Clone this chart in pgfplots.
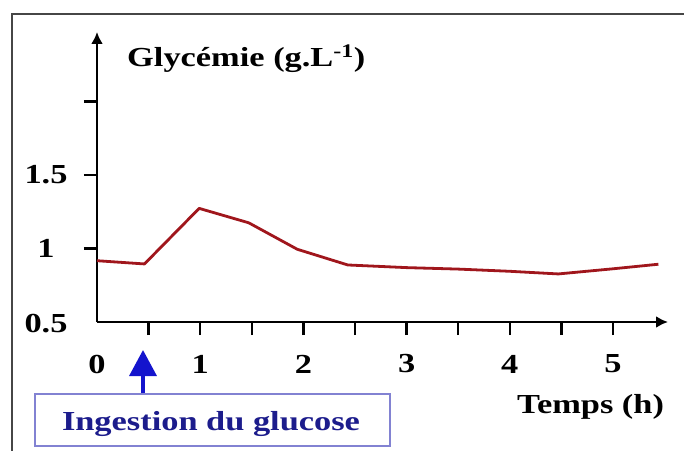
\documentclass[border=0pt]{standalone}
\usepackage{fontspec}
\setmainfont{Liberation Serif}[FakeStretch=1.25]
\usepackage{pgfplots}
\pgfplotsset{compat=1.18}
\usetikzlibrary{arrows.meta,calc}
\definecolor{curve}{RGB}{160,22,28}
\definecolor{framegray}{RGB}{70,70,70}
\definecolor{boxline}{RGB}{130,130,210}
\definecolor{txtblue}{RGB}{28,28,140}
\definecolor{arrblue}{RGB}{20,20,205}
\newcommand{\bigf}{\fontsize{27.5}{30}\selectfont\bfseries}
\begin{document}
\begin{tikzpicture}
\begin{axis}[
  scale only axis, width=571pt, height=290pt,
  xmin=0, xmax=5.533, ymin=0.5, ymax=2.473,
  axis lines=left,
  axis line style={line width=2.5pt, -{Latex[length=12pt,width=12pt]}},
  tick align=outside, major tick length=13pt,
  tick style={line width=2.3pt, black},
  xtick={0.5,1,...,5}, xticklabels={,1,,2,,3,,4,,5},
  extra x ticks={0}, extra x tick labels={0},
  extra x tick style={major tick style={draw=none}},
  ytick={1,1.5,2}, yticklabels={1,1.5,},
  extra y ticks={0.5}, extra y tick labels={0.5},
  extra y tick style={major tick style={draw=none}, yticklabel style={yshift=-2pt}},
  /pgf/number format/assume math mode=true,
  xticklabel style={font=\bigf, anchor=center, yshift=-29pt},
  yticklabel style={font=\bigf, anchor=center, xshift=-38pt},
  clip=false,
]
\addplot[curve, line width=2.8pt, line join=round] coordinates {
  (0,0.917) (0.46,0.895) (0.99,1.273) (1.47,1.175) (1.94,0.995)
  (2.43,0.888) (3,0.87) (3.5,0.86) (4,0.845) (4.47,0.827) (5,0.862) (5.44,0.893)
};
\coordinate (O) at (axis cs:0,0.5);
\end{axis}
% local frame: (px,py) in reference pixels -> (px-97, 322-py)
\begin{scope}[shift={(O)}, x=1pt, y=1pt]
\begin{scope}
\clip (-97,-128) rectangle (587,322);
\draw[framegray, line width=2pt] (-85,-140) -- (-85,308) -- (600,308);
\end{scope}
\node[anchor=base west, inner sep=0pt, font=\bigf] at (30,255.3) {Glycémie (g.L\textsuperscript{-1})};
\node[anchor=base west, inner sep=0pt, font=\bigf] at (420,-91) {Temps (h)};
\draw[boxline, line width=1.6pt, fill=white] (-62,-72) rectangle (293,-124);
\node[anchor=base, inner sep=0pt, font=\bigf, text=txtblue] at (114,-108) {Ingestion du glucose};
\draw[arrblue, line width=3.5pt, -{Triangle[length=26pt,width=27pt]}] (46,-71) -- (46,-28);
\end{scope}
\pgfresetboundingbox
\path[use as bounding box] ($(O)+(-97pt,-128pt)$) rectangle ($(O)+(587pt,322pt)$);
\end{tikzpicture}
\end{document}
